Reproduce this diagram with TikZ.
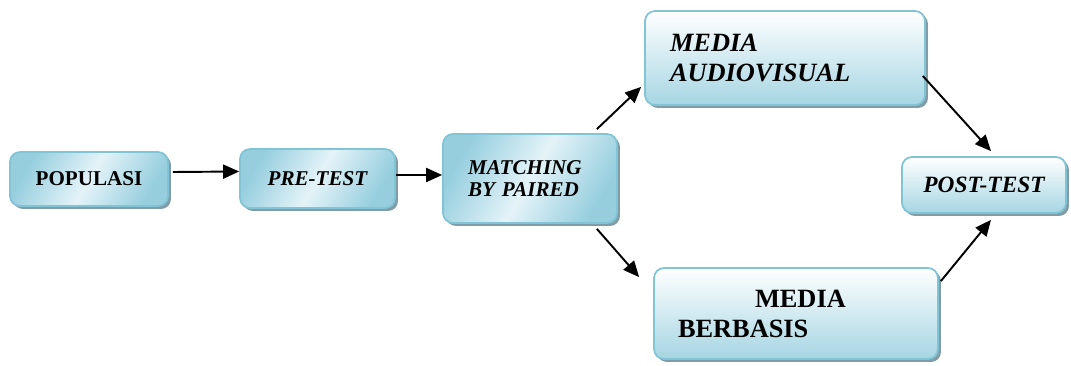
\documentclass[tikz,border=0pt]{standalone}
\usepackage{fontspec}
\setmainfont{Liberation Serif}
\usepackage{tikz}
\usetikzlibrary{shadows,arrows.meta}

\definecolor{boxedge}{RGB}{128,196,214}
\definecolor{boxblue}{RGB}{150,206,222}
\definecolor{boxlight}{RGB}{228,243,248}
\definecolor{boxshadow}{RGB}{128,156,166}

\begin{document}
\begin{tikzpicture}[x=0.02cm,y=-0.02cm,
	box/.style={draw=boxedge, line width=1pt, rounded corners=0.2cm,
		drop shadow={shadow xshift=0.06cm, shadow yshift=-0.06cm, fill=boxshadow, opacity=1},
		font=\bfseries\fontsize{12}{14}\selectfont, inner sep=0pt},
	diagfill/.style={left color=boxblue, right color=boxblue, middle color=boxlight, shading angle=60},
	vertfill/.style={top color=white, bottom color=boxblue!85},
	arr/.style={-{Triangle[length=0.32cm,width=0.28cm]}, line width=1.1pt}]
	\useasboundingbox (0,0) rectangle (1071,365);

	\node[box,diagfill,minimum width=3.16cm,minimum height=1.08cm] (pop) at (89,179) {POPULASI};
	\node[box,diagfill,minimum width=3.1cm,minimum height=1.18cm] (pre) at (317.5,178.5) {\itshape PRE-TEST};
	\node[box,diagfill,minimum width=3.48cm,minimum height=1.78cm,inner xsep=0.5cm,text width=2.48cm,align=left] (match) at (530,178.5) {\itshape MATCHING\\[-1pt] BY PAIRED\\[4pt]};
	\node[box,vertfill,minimum width=5.6cm,minimum height=1.88cm,inner xsep=0.5cm,text width=4.6cm,align=left,font=\bfseries\fontsize{15}{17}\selectfont] (audio) at (785,58) {\itshape MEDIA\\ AUDIOVISUAL};
	\node[box,vertfill,minimum width=5.68cm,minimum height=1.82cm,inner xsep=0.48cm,text width=4.72cm,align=left,font=\bfseries\fontsize{15}{17}\selectfont] (berb) at (796,313.5) {\hspace*{1.54cm}MEDIA\\ BERBASIS};
	\node[box,vertfill,minimum width=3.28cm,minimum height=1.12cm,font=\bfseries\fontsize{13.3}{15}\selectfont] (post) at (984,185) {\itshape POST-TEST};

	\draw[arr] ([xshift=0.08cm,yshift=0.14cm]pop.east) -- ([yshift=0.14cm]pre.west);
	\draw[arr] ([yshift=0.07cm]pre.east) -- ([yshift=0.07cm]match.west);
	\draw[arr] ([xshift=-0.42cm,yshift=0.08cm]match.north east) -- ([xshift=-0.06cm,yshift=0.38cm]audio.south west);
	\draw[arr] ([xshift=-0.42cm,yshift=-0.1cm]match.south east) -- ([xshift=-0.28cm,yshift=-0.2cm]berb.north west);
	\draw[arr] ([xshift=-0.06cm,yshift=-0.36cm]audio.east) -- ([xshift=0.14cm,yshift=0.1cm]post.north);
	\draw[arr] ([xshift=0.04cm,yshift=-0.28cm]berb.north east) -- ([xshift=0.14cm,yshift=-0.12cm]post.south);
\end{tikzpicture}
\end{document}
